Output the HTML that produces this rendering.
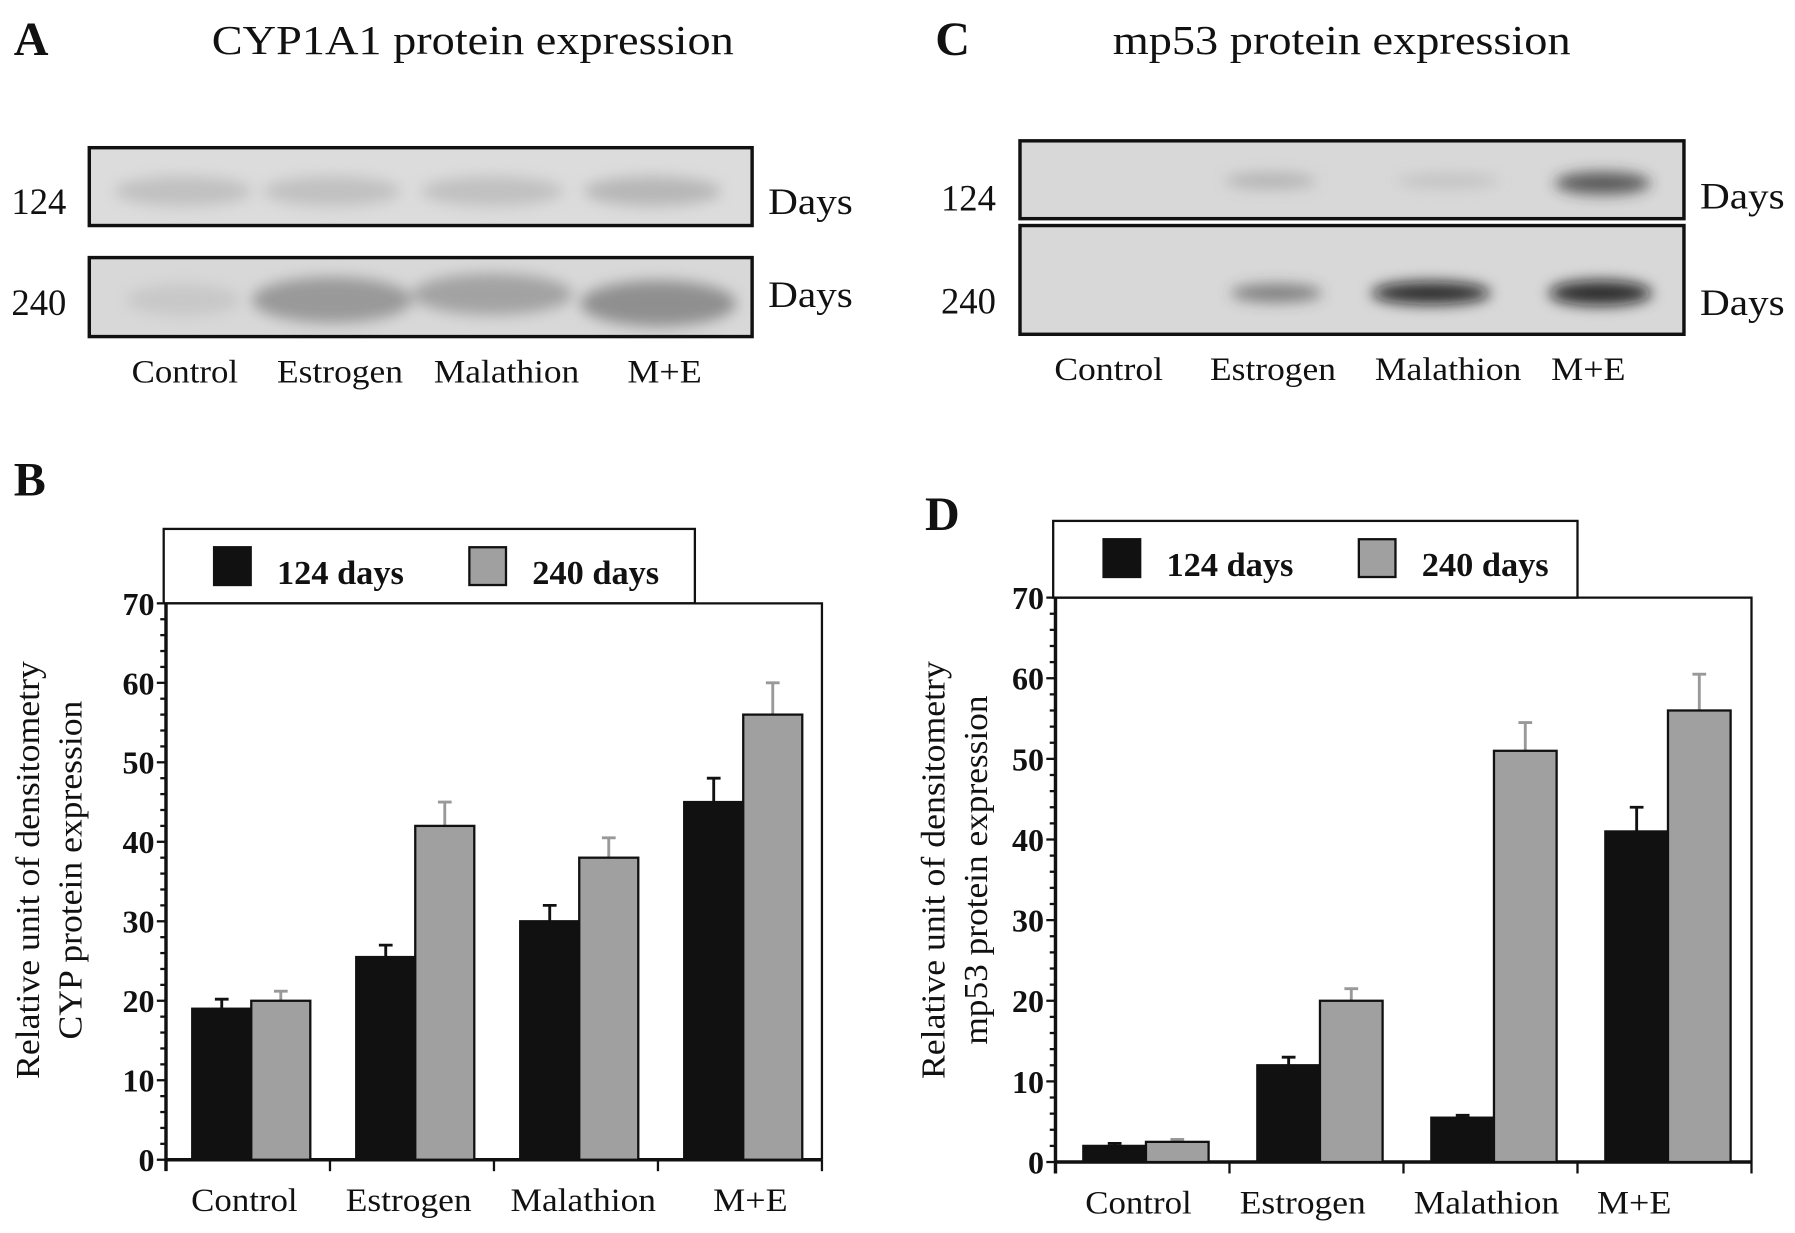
<!DOCTYPE html>
<html><head><meta charset="utf-8"><style>
html,body{margin:0;padding:0;background:#fff}
svg{display:block}
text{font-family:"Liberation Serif",serif;fill:#111}
</style></head><body>
<svg id="fig" width="1795" height="1233" viewBox="0 0 1568 1077" preserveAspectRatio="none" xmlns="http://www.w3.org/2000/svg">
<defs>
<filter id="blur" x="-20%" y="-50%" width="140%" height="200%"><feGaussianBlur stdDeviation="6"/></filter>
</defs>
<g>
<text x="12" y="48" font-size="42" font-weight="bold">A</text>
<text x="185" y="47" font-size="36" textLength="456" lengthAdjust="spacingAndGlyphs">CYP1A1 protein expression</text>
<rect x="78" y="129" width="579" height="68" fill="#dcdcdc" stroke="#111" stroke-width="3"/>
<rect x="78" y="225" width="579" height="69" fill="#d8d8d8" stroke="#111" stroke-width="3"/>
<g filter="url(#blur)" opacity="0.55">
<ellipse cx="160" cy="167" rx="60" ry="13" fill="#aaa"/><ellipse cx="290" cy="167" rx="60" ry="13" fill="#aaa"/>
<ellipse cx="430" cy="167" rx="62" ry="13" fill="#aaa"/><ellipse cx="570" cy="167" rx="60" ry="13" fill="#999"/>
<ellipse cx="160" cy="262" rx="50" ry="14" fill="#bbb"/><ellipse cx="290" cy="262" rx="70" ry="20" fill="#666"/>
<ellipse cx="430" cy="257" rx="70" ry="18" fill="#777"/><ellipse cx="575" cy="265" rx="68" ry="20" fill="#555"/>
</g>
<text x="10" y="187" font-size="32">124</text>
<text x="10" y="275" font-size="32">240</text>
<text x="671" y="187" font-size="32" textLength="74" lengthAdjust="spacingAndGlyphs">Days</text>
<text x="671" y="268" font-size="32" textLength="74" lengthAdjust="spacingAndGlyphs">Days</text>
<text x="115" y="334" font-size="29" textLength="93" lengthAdjust="spacingAndGlyphs">Control</text>
<text x="242" y="334" font-size="29" textLength="110" lengthAdjust="spacingAndGlyphs">Estrogen</text>
<text x="379" y="334" font-size="29" textLength="127" lengthAdjust="spacingAndGlyphs">Malathion</text>
<text x="548" y="334" font-size="29" textLength="65" lengthAdjust="spacingAndGlyphs">M+E</text>
</g>
<g>
<text x="817" y="48" font-size="42" font-weight="bold">C</text>
<text x="972" y="47" font-size="36" textLength="400" lengthAdjust="spacingAndGlyphs">mp53 protein expression</text>
<rect x="891" y="123" width="580" height="68" fill="#d8d8d8" stroke="#111" stroke-width="3"/>
<rect x="891" y="197" width="580" height="95" fill="#d8d8d8" stroke="#111" stroke-width="3"/>
<g filter="url(#blur)">
<ellipse cx="1110" cy="158" rx="40" ry="7" fill="#888" opacity="0.45"/><ellipse cx="1265" cy="158" rx="45" ry="6" fill="#999" opacity="0.35"/>
<ellipse cx="1400" cy="160" rx="42" ry="10" fill="#333" opacity="0.75"/>
<ellipse cx="1115" cy="256" rx="40" ry="8" fill="#444" opacity="0.6"/><ellipse cx="1250" cy="256" rx="52" ry="10" fill="#111" opacity="0.85"/>
<ellipse cx="1398" cy="256" rx="45" ry="11" fill="#111" opacity="0.85"/>
</g>
<text x="822" y="184" font-size="32">124</text>
<text x="822" y="274" font-size="32">240</text>
<text x="1485" y="182" font-size="32" textLength="74" lengthAdjust="spacingAndGlyphs">Days</text>
<text x="1485" y="275" font-size="32" textLength="74" lengthAdjust="spacingAndGlyphs">Days</text>
<text x="921" y="332" font-size="29" textLength="95" lengthAdjust="spacingAndGlyphs">Control</text>
<text x="1057" y="332" font-size="29" textLength="110" lengthAdjust="spacingAndGlyphs">Estrogen</text>
<text x="1201" y="332" font-size="29" textLength="128" lengthAdjust="spacingAndGlyphs">Malathion</text>
<text x="1355" y="332" font-size="29" textLength="65" lengthAdjust="spacingAndGlyphs">M+E</text>
</g>
<text x="12" y="433" font-size="42" font-weight="bold">B</text>
<text x="808" y="463" font-size="42" font-weight="bold">D</text>
</svg>
<script>
const categories = ["Control", "Estrogen", "Malathion", "M+E"];
const seriesNames = ["124 days", "240 days"];
const yTicks = [0, 10, 20, 30, 40, 50, 60, 70];
const b124 = [19, 25.5, 30, 45];
const b240 = [20, 42, 38, 56];
const b124err = [1.2, 1.5, 2, 3];
const b240err = [1.2, 3, 2.5, 4];
const d124 = [2, 12, 5.5, 41];
const d240 = [2.5, 20, 51, 56];
const d124err = [0.3, 1, 0.3, 3];
const d240err = [0.3, 1.5, 3.5, 4.5];

const NS = "http://www.w3.org/2000/svg";
const svg = document.getElementById("fig");
const labelWidths = [93, 110, 127, 65];
function mk(tag, attrs, parent) {
  const e = document.createElementNS(NS, tag);
  for (const k in attrs) e.setAttribute(k, attrs[k]);
  (parent || svg).appendChild(e);
  return e;
}
function chart(id, L, R, T, B, legR, legT, s1, s2, e1, e2, t1, t2, titleX, labelX, t2len) {
  const g = mk("g", {});
  
  
  const y = v => B - v / 70 * (B - T);
  const band = (R - L) / categories.length;
  const bw = band * 0.36;
  const lg = mk("rect", {x: L - 2, y: legT, width: legR - L + 2, height: T - legT, fill: "#fff", stroke: "#111", "stroke-width": 2}, g);
  
  
  const lx = [L + 42, L + 265];
  seriesNames.forEach((n, i) => {
    const sw = mk("rect", {x: lx[i], y: legT + 16, width: 32, height: 33, fill: i ? "#a0a0a0" : "#111", stroke: "#111", "stroke-width": 2}, g);
    
    
    const tx = mk("text", {x: lx[i] + 55, y: legT + 48, "font-size": 30, "font-weight": "bold"}, g);
    tx.textContent = n;
    
    
  });
  const fr = mk("path", {d: `M${L},${T}H${R}V${B}`, fill: "none", stroke: "#111", "stroke-width": 2}, g);
  
  
  const ax = mk("path", {d: `M${L},${T}V${B + 10}M${L},${B}H${R}`, fill: "none", stroke: "#111", "stroke-width": 3}, g);
  
  
  for (let v = 0; v <= 70; v += 2) {
    const big = v % 10 === 0;
    const tk = mk("line", {x1: L - (big ? 8 : 5), x2: L, y1: y(v), y2: y(v), stroke: "#111", "stroke-width": 2}, g);
    
    
  }
  yTicks.forEach(v => {
    const t = mk("text", {x: L - 10, y: y(v) + 10, "font-size": 28, "font-weight": "bold", "text-anchor": "end"}, g);
    t.textContent = v;
    
    
  });
  categories.forEach((c, i) => {
    const x0 = L + band * (i + 1);
    const tk = mk("line", {x1: x0, x2: x0, y1: B, y2: B + 10, stroke: "#111", "stroke-width": 2}, g);
    
    
    const lb = mk("text", {x: labelX[i], y: B + 45, "font-size": 29, textLength: labelWidths[i], lengthAdjust: "spacingAndGlyphs"}, g);
    lb.textContent = c;
    
    
    const bx = L + band * i + band * 0.16;
    [[s1, e1, "#111"], [s2, e2, "#a0a0a0"]].forEach((s, k) => {
      const xx = bx + k * bw;
      const top = y(s[0][i]);
      const err = mk("path", {d: `M${xx + bw / 2},${top}V${y(s[0][i] + s[1][i])}M${xx + bw / 2 - 6},${y(s[0][i] + s[1][i])}h12`, stroke: k ? "#999" : "#111", "stroke-width": 2.5, fill: "none"}, g);
      
      
      const r = mk("rect", {x: xx, y: top, width: bw, height: B - top, fill: s[2], stroke: "#111", "stroke-width": 2}, g);
      
      
    });
  });
  const cy = 760;
  [[t1, titleX, 365], [t2, titleX + 37, t2len]].forEach(t => {
    const tt = mk("text", {x: t[1], y: cy, "font-size": 30, "text-anchor": "middle", textLength: t[2], lengthAdjust: "spacingAndGlyphs", transform: `rotate(-90 ${t[1]} ${cy})`}, g);
    tt.textContent = t[0];
    
    
  });
}
chart("b", 145, 718, 527, 1013, 607, 462, b124, b240, b124err, b240err, "Relative unit of densitometry", "CYP protein expression", 34, [167, 302, 446, 623], 296);
chart("d", 922, 1530, 522, 1015, 1378, 455, d124, d240, d124err, d240err, "Relative unit of densitometry", "mp53  protein expression", 825, [948, 1083, 1235, 1395], 305);
</script>
</body></html>
